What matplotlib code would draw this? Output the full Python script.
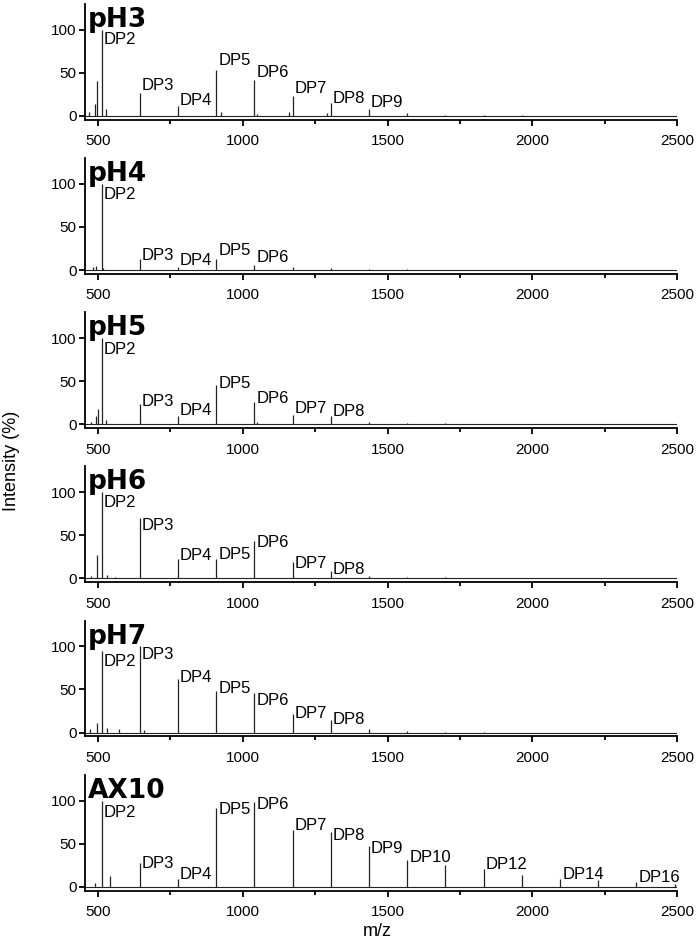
import matplotlib
matplotlib.use("Agg")
import matplotlib.pyplot as plt
from matplotlib.ticker import MultipleLocator

plt.rcParams['font.family'] = ['Liberation Sans', 'DejaVu Sans']

# m/z of the DP2..DP17 oligosaccharide peaks
dp_names = ['DP2', 'DP3', 'DP4', 'DP5', 'DP6', 'DP7', 'DP8', 'DP9',
            'DP10', 'DP11', 'DP12', 'DP13', 'DP14', 'DP15', 'DP16', 'DP17']
dp_mz = [512, 644, 776, 908, 1040, 1172, 1304, 1436,
         1568, 1700, 1832, 1964, 2096, 2228, 2360, 2492]

samples = ['pH3', 'pH4', 'pH5', 'pH6', 'pH7', 'AX10']

# relative intensity (%) of DP2..DP17 for each sample
int_ph3 = [100, 26, 12, 53, 42, 23, 15, 8, 3.5, 1.5, 1, 0.5, 0, 0, 0, 0]
int_ph4 = [100, 13, 3, 13, 6, 3, 2, 1.5, 1, 0.5, 0, 0, 0, 0, 0, 0]
int_ph5 = [100, 23, 9, 46, 26, 11, 9, 3, 1.5, 1, 0.5, 0, 0, 0, 0, 0]
int_ph6 = [100, 70, 22, 23, 43, 19, 9, 3, 1.5, 1, 0.5, 0, 0, 0, 0, 0]
int_ph7 = [95, 100, 62, 48, 46, 21, 15, 4, 1.5, 1, 0.5, 0, 0, 0, 0, 0]
int_ax10 = [100, 28, 9, 91, 99, 66, 64, 47, 31, 25, 20, 14, 9, 8, 5, 3]
intensities = [int_ph3, int_ph4, int_ph5, int_ph6, int_ph7, int_ax10]

# other (unlabelled) peaks: m/z and intensity
minor_mz = [[468, 489, 497, 527, 925, 1050, 1160, 1292],
            [483, 492, 516],
            [475, 492, 500, 529, 1050],
            [475, 497, 530, 560],
            [471, 497, 532, 572, 660],
            [489, 540]]
minor_int = [[5, 14, 40, 8, 4, 2, 4, 3],
             [3, 5, 2],
             [3, 9, 18, 5, 2],
             [3, 27, 4, 2],
             [4, 11, 5, 4, 3],
             [4, 12]]

# which DP peaks carry a label in each panel
shown_labels = [['DP2', 'DP3', 'DP4', 'DP5', 'DP6', 'DP7', 'DP8', 'DP9'],
                ['DP2', 'DP3', 'DP4', 'DP5', 'DP6'],
                ['DP2', 'DP3', 'DP4', 'DP5', 'DP6', 'DP7', 'DP8'],
                ['DP2', 'DP3', 'DP4', 'DP5', 'DP6', 'DP7', 'DP8'],
                ['DP2', 'DP3', 'DP4', 'DP5', 'DP6', 'DP7', 'DP8'],
                ['DP2', 'DP3', 'DP4', 'DP5', 'DP6', 'DP7', 'DP8', 'DP9', 'DP10', 'DP12', 'DP14', 'DP16']]

# label baseline heights (layout only)
label_y = [[84, 30, 13, 59, 45, 26, 15, 10],
           [83, 12, 6, 18, 9],
           [82, 21, 11, 42, 25, 13, 10],
           [83, 56, 21, 23, 37, 12, 5],
           [77, 85, 59, 46, 32, 17, 10],
           [81, 22, 8.5, 85, 90, 66, 54, 39, 29, 21, 9, 6]]

fig, axes = plt.subplots(6, 1, figsize=(6.97, 9.43), dpi=100)
fig.subplots_adjust(left=0.122, right=0.9713, top=0.9958, bottom=0.0556, hspace=0.332)

for i, ax in enumerate(axes):
    ax.plot([455, 2500], [0, 0], color='#222222', lw=0.8)
    ax.vlines(dp_mz, 0, intensities[i], color='#222222', lw=0.9)
    ax.vlines(minor_mz[i], 0, minor_int[i], color='#222222', lw=0.9)

    for name, y in zip(shown_labels[i], label_y[i]):
        mz = dp_mz[dp_names.index(name)]
        ax.annotate(name, (mz, y), xytext=(1.5, 0), textcoords='offset points',
                    ha='left', va='baseline', fontsize=12)

    ax.text(0.004, 0.975, samples[i], transform=ax.transAxes, ha='left', va='top',
            fontsize=19, fontweight='bold', family='DejaVu Sans')

    ax.set_xlim(455, 2500)
    ax.set_ylim(-4.5, 130)
    ax.set_yticks([0, 50, 100])
    ax.xaxis.set_major_locator(MultipleLocator(500))
    ax.xaxis.set_minor_locator(MultipleLocator(250))
    ax.spines['top'].set_visible(False)
    ax.spines['right'].set_visible(False)
    ax.spines['left'].set_linewidth(1.3)
    ax.spines['bottom'].set_linewidth(1.3)
    ax.tick_params(axis='x', which='major', length=4.5, width=1.3, pad=6, labelsize=11)
    ax.tick_params(axis='x', which='minor', length=3, width=1.3)
    ax.tick_params(axis='y', which='major', length=4.5, width=1.3, pad=1.5, labelsize=11)

fig.text(0.017, 0.511, 'Intensity (%)', rotation=90, ha='center', va='center', fontsize=13)
fig.text(0.542, 0.012, 'm/z', ha='center', va='center', fontsize=13)

fig.savefig('out.png', dpi=100)
